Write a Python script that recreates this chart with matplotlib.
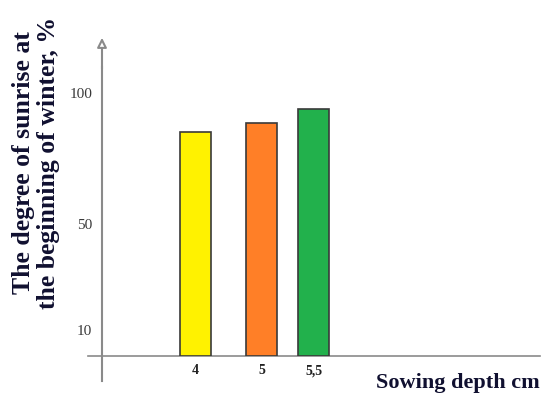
import matplotlib
matplotlib.use('Agg')
from matplotlib import pyplot as plt

# data
depths = ["4", "5", "5,5"]
sunrise = [85, 88.5, 94]
tick_values = [100, 50, 10]
tick_labels = ["100", "50", "10"]

COLORS = ['#FFF200', '#FF7F27', '#22B14C']
EDGE = '#3a3a3a'
AXIS = '#8a8a8a'
SERIF = ['Liberation Serif', 'DejaVu Serif']

# bar centres on a uneven scale, as in the original drawing
bar_x = [0, 1, 1.79]
BAR_W = 0.47

fig = plt.figure(figsize=(5.41, 3.97), dpi=100)
# axes box: left edge on the vertical axis line, bottom on the baseline
ax = fig.add_axes([102 / 541, 41 / 397, 438 / 541, 321 / 397])
ax.set_xlim(-1.417, 5.22)
ax.set_ylim(0, 122)
for s in ax.spines.values():
    s.set_visible(False)

ax.bar(bar_x, sunrise, width=BAR_W, color=COLORS, edgecolor=EDGE, linewidth=1.2, zorder=3)

# baseline and vertical axis with arrow
ax.plot([-1.63, 5.22], [0, 0], color=AXIS, linewidth=1.2, zorder=2, clip_on=False)
ax.plot([-1.417, -1.417], [-9.5, 110], color=AXIS, linewidth=1.5, zorder=2, clip_on=False)
ax.annotate('', xy=(-1.417, 122), xytext=(-1.417, 108),
            arrowprops=dict(arrowstyle='-|>', color=AXIS, fc='white', lw=1.5,
                            mutation_scale=14), annotation_clip=False)

ax.set_yticks(tick_values)
ax.set_yticklabels(tick_labels, family=SERIF, fontsize=11, color='#3a3a3a')
ax.tick_params(axis='y', length=0, pad=7)
ax.set_xticks(bar_x)
ax.set_xticklabels(depths, family=SERIF, fontsize=10, fontweight='bold', color='#222222')
ax.tick_params(axis='x', length=0, pad=6)

fig.text(0.067, 1 - 163 / 397, "The degree of sunrise at\nthe beginning of winter, %", rotation=90,
         ha='center', va='center', family=SERIF, fontweight='bold', fontsize=18.5,
         color='#101030', linespacing=1.1)
fig.text(540 / 541, 1 - 383 / 397, "Sowing depth cm", ha='right', va='center',
         family=SERIF, fontweight='bold', fontsize=16, color='#101030')

fig.savefig('out.png', dpi=100)
